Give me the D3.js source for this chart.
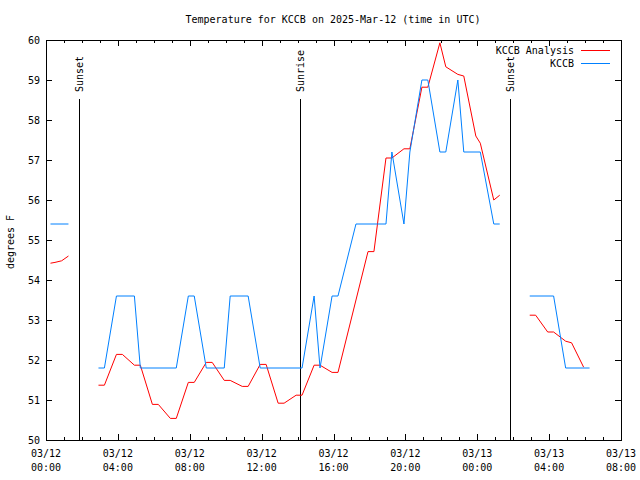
<!DOCTYPE html>
<html>
<head>
<meta charset="utf-8">
<script src="https://cdn.jsdelivr.net/npm/d3@7"></script>
<style>
body { margin: 0; background: #fff; }
svg { display: block; }
text { font-family: "DejaVu Sans Mono", "Liberation Mono", monospace; font-size: 10px; fill: #000; }
</style>
</head>
<body>
<svg id="chart" width="640" height="480"></svg>
<script>
// Hours since 2025-03-12 00:00 UTC; null marks a gap in the record
const obsHours = [0.25, 1.25, null,
  2.92, 3.25, 3.92, 4.92, 5.25, 7.25, 7.92, 8.25, 8.92, 9.92, 10.25, 11.25, 11.92, 14.25,
  14.92, 15.25, 15.92, 16.25, 17.25, 18.92, 19.25, 19.92, 20.25, 20.92, 21.25, 21.92, 22.25,
  22.92, 23.25, 24.17, 24.92, 25.25, null,
  26.92, 28.25, 28.92, 30.25];
const obsTemps = [55.4, 55.4, null,
  51.8, 51.8, 53.6, 53.6, 51.8, 51.8, 53.6, 53.6, 51.8, 51.8, 53.6, 53.6, 51.8, 51.8,
  53.6, 51.8, 53.6, 53.6, 55.4, 55.4, 57.2, 55.4, 57.2, 59.0, 59.0, 57.2, 57.2,
  59.0, 57.2, 57.2, 55.4, 55.4, null,
  53.6, 53.6, 51.8, 51.8];

const anaHours = [0.25, 0.5, 0.87, 1.25, null,
  2.92, 3.25, 3.92, 4.25, 4.92, 5.25, 5.92, 6.25, 6.92, 7.25, 7.92, 8.25, 8.92, 9.25,
  9.92, 10.25, 10.92, 11.25, 11.92, 12.25, 12.92, 13.25, 13.92, 14.25, 14.92, 15.25,
  15.92, 16.25, 17.92, 18.25, 18.92, 19.25, 19.92, 20.25, 20.92, 21.25, 21.92, 22.25,
  22.92, 23.25, 23.92, 24.17, 24.92, 25.25, null,
  26.92, 27.25, 27.92, 28.25, 28.92, 29.25, 29.92];
const anaTemps = [54.42, 54.44, 54.48, 54.6, null,
  51.37, 51.37, 52.14, 52.14, 51.87, 51.87, 50.89, 50.89, 50.54, 50.54, 51.44, 51.44, 51.94, 51.94,
  51.49, 51.49, 51.34, 51.34, 51.89, 51.89, 50.92, 50.92, 51.12, 51.12, 51.87, 51.87,
  51.69, 51.69, 54.71, 54.71, 57.05, 57.05, 57.28, 57.28, 58.82, 58.82, 59.93, 59.33,
  59.14, 59.10, 57.60, 57.42, 56.00, 56.12, null,
  53.12, 53.12, 52.70, 52.70, 52.47, 52.43, 51.82];

const eventHours = [1.85, 14.15, 25.85];
const eventLabels = ["Sunset", "Sunrise", "Sunset"];

const xTickHours = [0, 4, 8, 12, 16, 20, 24, 28, 32];
const xTickDates = ["03/12", "03/12", "03/12", "03/12", "03/12", "03/12", "03/13", "03/13", "03/13"];
const xTickTimes = ["00:00", "04:00", "08:00", "12:00", "16:00", "20:00", "00:00", "04:00", "08:00"];
const yTicks = [50, 51, 52, 53, 54, 55, 56, 57, 58, 59, 60];

const seriesNames = ["KCCB Analysis", "KCCB"];
const seriesColors = ["#ff0000", "#0080ff"];

const svg = d3.select("#chart");
const L = 46, R = 621, T = 40, B = 440;
const x = d3.scaleLinear().domain([0, 32]).range([L, R]);
const y = d3.scaleLinear().domain([50, 60]).range([B, T]);

// title
svg.append("text").attr("x", 333).attr("y", 23).attr("text-anchor", "middle")
  .text("Temperature for KCCB on 2025-Mar-12 (time in UTC)");

// y label
svg.append("text").attr("transform", "translate(14,242) rotate(-90)")
  .attr("text-anchor", "middle").text("degrees F");

// y ticks (left with labels, right mirrored)
const g = svg.append("g").attr("shape-rendering", "crispEdges");
g.selectAll(".yl").data(yTicks).join("line")
  .attr("x1", L).attr("x2", L + 6).attr("y1", d => Math.round(y(d)) + 0.5).attr("y2", d => Math.round(y(d)) + 0.5)
  .attr("stroke", "#000");
g.selectAll(".yr").data(yTicks).join("line").attr("class", "yr")
  .attr("x1", R - 6).attr("x2", R).attr("y1", d => Math.round(y(d)) + 0.5).attr("y2", d => Math.round(y(d)) + 0.5)
  .attr("stroke", "#000");
svg.selectAll(".ytl").data(yTicks).join("text").attr("class", "ytl")
  .attr("x", 40).attr("y", d => y(d) + 3.5).attr("text-anchor", "end").text(d => d);

// x ticks: minor every hour, major every 4 hours
const hours = d3.range(0, 33);
g.selectAll(".xb").data(hours).join("line").attr("class", "xb")
  .attr("x1", d => Math.round(x(d)) + 0.5).attr("x2", d => Math.round(x(d)) + 0.5)
  .attr("y1", B).attr("y2", d => B - (d % 4 === 0 ? 6 : 3)).attr("stroke", "#000");
g.selectAll(".xt").data(hours).join("line").attr("class", "xt")
  .attr("x1", d => Math.round(x(d)) + 0.5).attr("x2", d => Math.round(x(d)) + 0.5)
  .attr("y1", T).attr("y2", d => T + (d % 4 === 0 ? 6 : 3)).attr("stroke", "#000");
const xl = svg.selectAll(".xtl").data(xTickHours).join("g").attr("class", "xtl");
xl.append("text").attr("x", d => x(d)).attr("y", 457).attr("text-anchor", "middle").text((d, i) => xTickDates[i]);
xl.append("text").attr("x", d => x(d)).attr("y", 471).attr("text-anchor", "middle").text((d, i) => xTickTimes[i]);

// event lines
eventHours.forEach((h, i) => {
  const xp = Math.round(x(h)) + 0.5;
  g.append("line").attr("x1", xp).attr("x2", xp).attr("y1", 99).attr("y2", B).attr("stroke", "#000");
  svg.append("text").attr("transform", `translate(${xp + 3.5},92) rotate(-90)`).text(eventLabels[i]);
});

// series
const line = d3.line().defined(d => d[1] !== null).x(d => x(d[0])).y(d => y(d[1]));
const anaData = anaHours.map((h, i) => [h, anaTemps[i]]);
const obsData = obsHours.map((h, i) => [h, obsTemps[i]]);
svg.append("path").datum(anaData).attr("d", line).attr("fill", "none")
  .attr("stroke", seriesColors[0]).attr("stroke-width", 1);
svg.append("path").datum(obsData).attr("d", line).attr("fill", "none")
  .attr("stroke", seriesColors[1]).attr("stroke-width", 1);

// legend
seriesNames.forEach((n, i) => {
  const yy = 50 + i * 13;
  svg.append("text").attr("x", 574).attr("y", yy + 3.5).attr("text-anchor", "end").text(n);
  g.append("line").attr("x1", 581).attr("x2", 610).attr("y1", yy + 0.5).attr("y2", yy + 0.5)
    .attr("stroke", seriesColors[i]);
});

// border
g.append("rect").attr("x", L + 0.5).attr("y", T + 0.5).attr("width", R - L).attr("height", B - T)
  .attr("fill", "none").attr("stroke", "#000");
</script>
</body>
</html>
